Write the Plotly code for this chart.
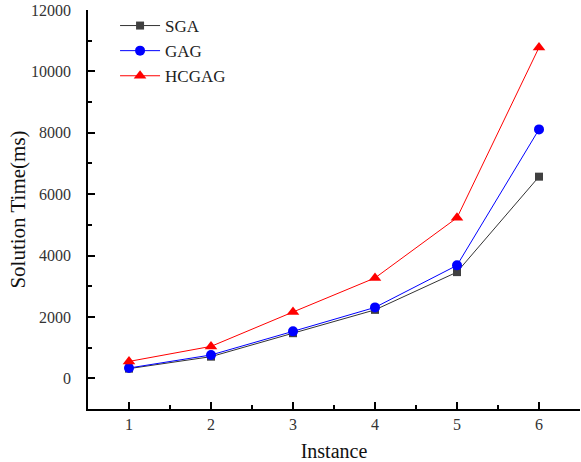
import plotly.graph_objects as go

instances = [1, 2, 3, 4, 5, 6]
sga = [315, 705, 1470, 2230, 3460, 6570]
gag = [335, 760, 1530, 2310, 3680, 8110]
hcgag = [550, 1040, 2160, 3270, 5230, 10780]
ytick_vals = [0, 2000, 4000, 6000, 8000, 10000, 12000]
ytick_text = ["0", "2000", "4000", "6000", "8000", "10000", "12000"]
ytick_minor = [-1000, 1000, 3000, 5000, 7000, 9000, 11000]
xtick_minor = [1.5, 2.5, 3.5, 4.5, 5.5]

fig = go.Figure()
fig.add_trace(go.Scatter(x=instances, y=sga, name="SGA", mode="lines+markers",
                         line=dict(color="#333333", width=1),
                         marker=dict(symbol="square", size=8, color="#404040")))
fig.add_trace(go.Scatter(x=instances, y=gag, name="GAG", mode="lines+markers",
                         line=dict(color="#0000ff", width=1),
                         marker=dict(symbol="circle", size=10, color="#0000ff")))
fig.add_trace(go.Scatter(x=instances, y=hcgag, name="HCGAG", mode="lines+markers",
                         line=dict(color="#ff0000", width=1),
                         marker=dict(symbol="triangle-up", size=11, color="#ff0000")))

tickfont = dict(family="Liberation Serif, serif", size=16, color="#333333")
fig.update_layout(
    width=581, height=462,
    margin=dict(l=88, r=1, t=10, b=53),
    paper_bgcolor="white", plot_bgcolor="white",
    showlegend=True,
    legend=dict(x=0.055, y=1.005, xanchor="left", yanchor="top",
                font=dict(family="Liberation Serif, serif", size=17, color="#222222"),
                bgcolor="rgba(0,0,0,0)", itemwidth=40, tracegroupgap=0),
    xaxis=dict(range=[0.5, 6.5], tickmode="array", tickvals=instances, ticks="inside", ticklen=7,
               tickwidth=1.5, tickcolor="black",
               showline=True, linecolor="black", linewidth=1.5, showgrid=False,
               zeroline=False, tickfont=tickfont, layer="above traces",
               minor=dict(tickmode="array", tickvals=xtick_minor, ticks="inside", ticklen=4,
                          tickcolor="black", tickwidth=1.5, showgrid=False),
               title=dict(text="Instance", font=dict(family="Liberation Serif, serif", size=20, color="#111111"), standoff=14)),
    yaxis=dict(range=[-1000, 12000], tickmode="array", tickvals=ytick_vals,
               ticktext=[t + "\u00a0\u00a0\u00a0" for t in ytick_text],
               ticks="inside", ticklen=7, tickwidth=1.5, tickcolor="black",
               showline=True, linecolor="black", linewidth=1.5, showgrid=False,
               zeroline=False, tickfont=tickfont, layer="above traces",
               minor=dict(tickmode="array", tickvals=ytick_minor, ticks="inside",
                          ticklen=4, tickcolor="black", tickwidth=1.5, showgrid=False),
               title=dict(text="Solution Time(ms)", font=dict(family="Liberation Serif, serif", size=21, color="#111111"), standoff=0)),
)

fig.write_html("out.html")
